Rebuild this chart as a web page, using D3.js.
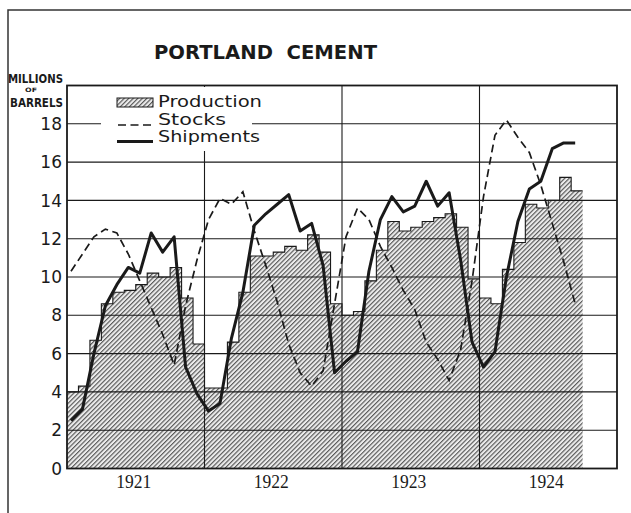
<!DOCTYPE html>
<html><head><meta charset="utf-8">
<script src="https://cdn.jsdelivr.net/npm/d3@7"></script>
<style>body{margin:0;background:#fff} svg{display:block}</style>
</head><body>
<script>
// ---- data (millions of barrels, monthly, Jan 1921 onward) ----
const years = ["1921", "1922", "1923", "1924"];
const yTicks = [0, 2, 4, 6, 8, 10, 12, 14, 16, 18];
const production = [4.0, 4.3, 6.7, 8.6, 9.2, 9.3, 9.6, 10.2, 10.0, 10.5, 8.9, 6.5,
  4.2, 4.2, 6.6, 9.2, 11.1, 11.1, 11.3, 11.6, 11.4, 12.2, 11.3, 8.6,
  8.0, 8.2, 9.8, 11.4, 12.9, 12.4, 12.6, 12.9, 13.1, 13.3, 12.6, 9.9,
  8.9, 8.6, 10.4, 11.8, 13.8, 13.6, 14.0, 15.2, 14.5];
const stocks = [10.3, 11.2, 12.1, 12.5, 12.3, 11.2, 9.8, 8.4, 7.0, 5.4, 8.5, 10.9,
  13.0, 14.1, 13.8, 14.45, 12.4, 10.6, 8.7, 6.5, 5.0, 4.3, 5.1, 8.6,
  12.1, 13.6, 13.0, 11.6, 10.5, 9.3, 8.3, 6.6, 5.7, 4.6, 6.2, 9.8,
  14.2, 17.4, 18.2, 17.3, 16.5, 14.8, 12.8, 10.8, 8.6];
const shipments = [2.5, 3.1, 6.0, 8.5, 9.6, 10.5, 10.2, 12.3, 11.3, 12.1, 5.3, 3.9,
  3.0, 3.4, 6.8, 9.2, 12.7, 13.3, 13.8, 14.3, 12.4, 12.8, 10.6, 5.0,
  5.6, 6.1, 10.3, 13.0, 14.2, 13.4, 13.7, 15.0, 13.7, 14.4, 10.9, 6.6,
  5.3, 6.1, 10.0, 12.9, 14.6, 15.0, 16.7, 17.0, 17.0];
const legendLabels = ["Production", "Stocks", "Shipments"];

const W = 631, H = 513;
const svg = d3.select("body").append("svg").attr("width", W).attr("height", H);
const x = d3.scaleLinear().domain([0, 48]).range([67, 617]);
const y = d3.scaleLinear().domain([0, 20]).range([468.5, 85.5]);
const ink = "#1a1a1a";

const defs = svg.append("defs");
const pat = defs.append("pattern").attr("id", "hatch")
  .attr("patternUnits", "userSpaceOnUse").attr("width", 3.2).attr("height", 3.2)
  .attr("patternTransform", "rotate(45)");
pat.append("rect").attr("width", 3.2).attr("height", 3.2).attr("fill", "#ececec");
pat.append("line").attr("x1", 0.6).attr("y1", 0).attr("x2", 0.6).attr("y2", 3.2)
  .attr("stroke", "#4a4a4a").attr("stroke-width", 1.05);

// outer border
svg.append("path").attr("d", "M8,513 L8,10 L631,10").attr("fill", "none")
  .attr("stroke", "#333").attr("stroke-width", 1.5);

// title
svg.append("text").attr("x", 154).attr("y", 59).text("PORTLAND  CEMENT")
  .attr("font-family", "DejaVu Sans").attr("font-weight", "bold").attr("font-size", 19)
  .attr("textLength", 223).attr("lengthAdjust", "spacingAndGlyphs").attr("fill", ink)
  .style("white-space", "pre");

// production area (step)
const prodPts = production.map((v, i) => ({ i, v }));
prodPts.push({ i: production.length, v: production[production.length - 1] });
svg.append("path").datum(prodPts)
  .attr("d", d3.area().x(d => x(d.i)).y0(y(0)).y1(d => y(d.v)).curve(d3.curveStepAfter))
  .attr("fill", "url(#hatch)");
svg.append("path").datum(prodPts)
  .attr("d", d3.line().x(d => x(d.i)).y(d => y(d.v)).curve(d3.curveStepAfter))
  .attr("fill", "none").attr("stroke", ink).attr("stroke-width", 1.1);

// gridlines
svg.append("g").selectAll("line").data(yTicks.filter(t => t > 0)).join("line")
  .attr("x1", x(0)).attr("x2", x(48)).attr("y1", d => y(d)).attr("y2", d => y(d))
  .attr("stroke", ink).attr("stroke-width", 1.1);
svg.append("g").selectAll("line").data([1, 2, 3]).join("line")
  .attr("x1", d => x(d * 12)).attr("x2", d => x(d * 12)).attr("y1", y(0)).attr("y2", y(20))
  .attr("stroke", ink).attr("stroke-width", 1.1);

// legend background
svg.append("rect").attr("x", 101).attr("y", 87).attr("width", 151).attr("height", 64).attr("fill", "#fff");

// series lines
const lineGen = d3.line().x((d, i) => x(i + 0.35)).y(d => y(d));
svg.append("path").datum(stocks).attr("d", lineGen).attr("fill", "none")
  .attr("stroke", ink).attr("stroke-width", 1.7).attr("stroke-dasharray", "8,4.5");
svg.append("path").datum(shipments).attr("d", lineGen).attr("fill", "none")
  .attr("stroke", ink).attr("stroke-width", 3).attr("stroke-linejoin", "round");

// frame
svg.append("rect").attr("x", x(0)).attr("y", y(20)).attr("width", x(48) - x(0)).attr("height", y(0) - y(20))
  .attr("fill", "none").attr("stroke", ink).attr("stroke-width", 1.8);

// y tick labels
svg.append("g").selectAll("text").data(yTicks).join("text")
  .attr("x", 62).attr("y", d => y(d)).attr("dy", "0.36em").attr("text-anchor", "end")
  .attr("font-family", "DejaVu Sans").attr("font-size", 17).attr("fill", ink).text(d => d);

// axis title
const at = svg.append("g").attr("font-family", "Liberation Sans Narrow, DejaVu Sans Condensed, sans-serif")
  .attr("font-weight", "bold").attr("fill", ink);
at.append("text").attr("x", 8).attr("y", 83).attr("font-size", 12).attr("textLength", 55)
  .attr("lengthAdjust", "spacingAndGlyphs").text("MILLIONS");
at.append("text").attr("x", 25).attr("y", 92).attr("font-size", 6).attr("textLength", 12)
  .attr("lengthAdjust", "spacingAndGlyphs").text("OF");
at.append("text").attr("x", 10).attr("y", 107).attr("font-size", 11.5).attr("textLength", 53)
  .attr("lengthAdjust", "spacingAndGlyphs").text("BARRELS");

// year labels
svg.append("g").selectAll("text").data(years).join("text")
  .attr("x", (d, i) => x(i * 12 + 6) - 2).attr("y", 488).attr("text-anchor", "middle")
  .attr("font-family", "Liberation Serif").attr("font-size", 18).attr("fill", ink)
  .attr("textLength", 35).attr("lengthAdjust", "spacingAndGlyphs").text(d => d);

// legend
const lg = svg.append("g").attr("font-family", "DejaVu Sans").attr("fill", ink);
lg.append("rect").attr("x", 117).attr("y", 98).attr("width", 36).attr("height", 9)
  .attr("fill", "url(#hatch)").attr("stroke", ink).attr("stroke-width", 1);
lg.append("line").attr("x1", 118).attr("x2", 153).attr("y1", 125).attr("y2", 125)
  .attr("stroke", ink).attr("stroke-width", 1.7).attr("stroke-dasharray", "8,4.5");
lg.append("line").attr("x1", 117).attr("x2", 153).attr("y1", 141.5).attr("y2", 141.5)
  .attr("stroke", ink).attr("stroke-width", 3);
const lgLens = [104, 68, 102];
const lgY = [107, 124.5, 142];
lg.selectAll("text").data(legendLabels).join("text")
  .attr("x", 158).attr("y", (d, i) => lgY[i]).attr("font-size", 16)
  .attr("textLength", (d, i) => lgLens[i]).attr("lengthAdjust", "spacingAndGlyphs").text(d => d);
</script>
</body></html>
